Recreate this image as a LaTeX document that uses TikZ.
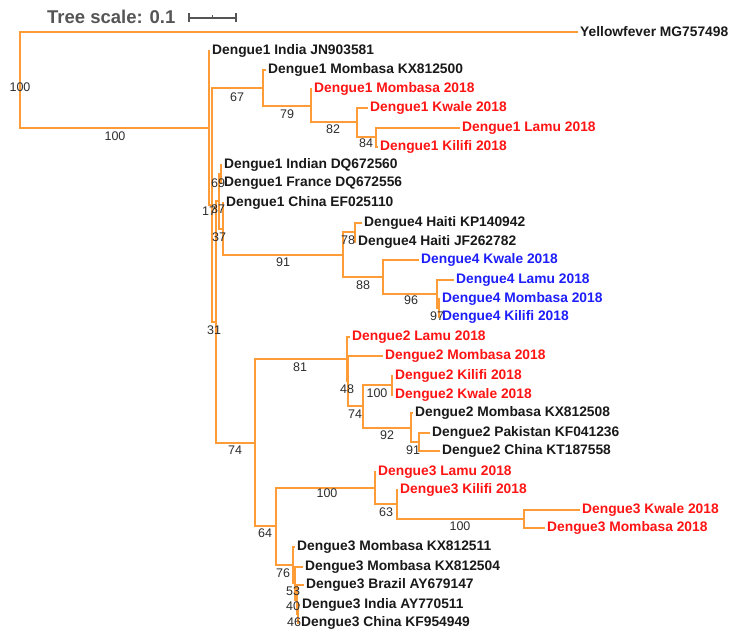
\documentclass[tikz,border=0pt]{standalone}
\usepackage{fontspec}
\setmainfont{Liberation Sans}
\usepackage{tikz}
\definecolor{branchorange}{RGB}{255,156,56}
\definecolor{tipred}{RGB}{255,20,20}
\definecolor{tipblue}{RGB}{30,30,250}
\definecolor{tipblack}{RGB}{25,25,25}
\definecolor{bootgray}{RGB}{45,45,45}
\definecolor{scalegray}{RGB}{85,85,85}

\begin{document}
\begin{tikzpicture}[x=1pt, y=-1pt,
	branch/.style={draw=branchorange, line width=2pt},
	leaf/.style={anchor=west, inner sep=2pt, text=tipblack, font=\bfseries\fontsize{13.8}{14}\selectfont},
	redtip/.style={text=tipred},
	bluetip/.style={text=tipblue},
	boot/.style={inner sep=0pt, text=bootgray, font=\fontsize{12.5}{13}\selectfont}]

	\useasboundingbox (0,0) rectangle (735,634);

	% scale
	\node[anchor=west, inner sep=0pt, text=scalegray, font=\bfseries\fontsize{18.5}{20}\selectfont] (ts) at (47,17) {Tree scale: 0.1};
	\coordinate (sb1) at (189,18);
	\coordinate (sb2) at (236,18);
	\coordinate (sbm) at (212.5,18);
	\draw[scalegray, line width=1.2pt] (sb1) -- (sb2);
	\draw[scalegray, line width=1.2pt] (sb1) ++(0,-4.5) -- ++(0,9);
	\draw[scalegray, line width=1.2pt] (sb2) ++(0,-4.5) -- ++(0,9);
	\draw[scalegray, line width=1.2pt] (sbm) -- ++(0,-3);

	% inner nodes
	\coordinate (root) at (20,80);
	\coordinate (n0) at (209,128);
	\coordinate (n1) at (212,205);
	\coordinate (nk) at (263,88);
	\coordinate (nm) at (311,106);
	\coordinate (nn) at (357,122);
	\coordinate (np) at (376,137);
	\coordinate (n2) at (216,322);
	\coordinate (nb) at (219,201);
	\coordinate (na) at (221,174);
	\coordinate (nd) at (223,229);
	\coordinate (d4) at (343,255);
	\coordinate (hai) at (355,232);
	\coordinate (ky) at (383,277);
	\coordinate (lmk) at (437,294);
	\coordinate (mk) at (439,308);
	\coordinate (d23) at (255,443);
	\coordinate (d2) at (347,359);
	\coordinate (n48) at (348,381);
	\coordinate (n74) at (363,406);
	\coordinate (n100) at (392,385);
	\coordinate (n92) at (411,428);
	\coordinate (n91) at (419,442);
	\coordinate (d3) at (276,526);
	\coordinate (n100a) at (375,488);
	\coordinate (n63) at (397,504);
	\coordinate (n100b) at (524,519);
	\coordinate (n76) at (293,565);
	\coordinate (n53) at (295,583);
	\coordinate (n40) at (297,600);
	\coordinate (n46) at (298,614);

	% leaves
	\node[leaf] (yf) at (578,32) {Yellowfever MG757498};
	\node[leaf] (d1in) at (210,51) {Dengue1 India JN903581};
	\node[leaf] (d1kx) at (266,70) {Dengue1 Mombasa KX812500};
	\node[leaf,redtip] (d1mo) at (312,89) {Dengue1 Mombasa 2018};
	\node[leaf,redtip] (d1kw) at (368,108) {Dengue1 Kwale 2018};
	\node[leaf,redtip] (d1la) at (460,128) {Dengue1 Lamu 2018};
	\node[leaf,redtip] (d1ki) at (378,147) {Dengue1 Kilifi 2018};
	\node[leaf] (d1dq0) at (222,165) {Dengue1 Indian DQ672560};
	\node[leaf] (d1dq6) at (222,183) {Dengue1 France DQ672556};
	\node[leaf] (d1ef) at (224,203) {Dengue1 China EF025110};
	\node[leaf] (d4kp) at (362,223) {Dengue4 Haiti KP140942};
	\node[leaf] (d4jf) at (356,242) {Dengue4 Haiti JF262782};
	\node[leaf,bluetip] (d4kw) at (419,260) {Dengue4 Kwale 2018};
	\node[leaf,bluetip] (d4la) at (454,280) {Dengue4 Lamu 2018};
	\node[leaf,bluetip] (d4mo) at (440,299) {Dengue4 Mombasa 2018};
	\node[leaf,bluetip] (d4ki) at (440,317) {Dengue4 Kilifi 2018};
	\node[leaf,redtip] (d2la) at (350,337) {Dengue2 Lamu 2018};
	\node[leaf,redtip] (d2mo) at (383,356) {Dengue2 Mombasa 2018};
	\node[leaf,redtip] (d2ki) at (393,376) {Dengue2 Kilifi 2018};
	\node[leaf,redtip] (d2kw) at (393,395) {Dengue2 Kwale 2018};
	\node[leaf] (d2kx) at (413,413) {Dengue2 Mombasa KX812508};
	\node[leaf] (d2kf) at (430,433) {Dengue2 Pakistan KF041236};
	\node[leaf] (d2kt) at (440,451) {Dengue2 China KT187558};
	\node[leaf,redtip] (d3la) at (376,472) {Dengue3 Lamu 2018};
	\node[leaf,redtip] (d3ki) at (398,490) {Dengue3 Kilifi 2018};
	\node[leaf,redtip] (d3kw) at (580,510) {Dengue3 Kwale 2018};
	\node[leaf,redtip] (d3mo) at (545,528) {Dengue3 Mombasa 2018};
	\node[leaf] (d3kx1) at (295,547) {Dengue3 Mombasa KX812511};
	\node[leaf] (d3kx4) at (303,567) {Dengue3 Mombasa KX812504};
	\node[leaf] (d3ay6) at (304,585) {Dengue3 Brazil AY679147};
	\node[leaf] (d3ay7) at (300,605) {Dengue3 India AY770511};
	\node[leaf] (d3kf) at (299,623) {Dengue3 China KF954949};

	% branches
	\foreach \p/\c in {root/n0, n0/n1, n1/nk, nk/nm, nm/nn, nn/np, n1/n2, n2/nb, nb/na, nb/nd,
		nd/d4, d4/hai, d4/ky, ky/lmk, lmk/mk, n2/d23, d23/d2, d2/n48, n48/n74, n74/n100,
		n74/n92, n92/n91, d23/d3, d3/n100a, n100a/n63, n63/n100b, d3/n76, n76/n53, n53/n40, n40/n46}{
		\draw[branch] (\p) |- (\c);
	}
	\foreach \p/\c in {root/yf, n0/d1in, nk/d1kx, nm/d1mo, nn/d1kw, np/d1la, np/d1ki, na/d1dq0,
		na/d1dq6, nd/d1ef, hai/d4kp, hai/d4jf, ky/d4kw, lmk/d4la, mk/d4mo, mk/d4ki, d2/d2la,
		n48/d2mo, n100/d2ki, n100/d2kw, n92/d2kx, n91/d2kf, n91/d2kt, n100a/d3la, n63/d3ki,
		n100b/d3kw, n100b/d3mo, n76/d3kx1, n53/d3kx4, n40/d3ay6, n46/d3ay7, n46/d3kf}{
		\draw[branch] (\p) |- (\c.west);
	}

	% bootstrap values
	\foreach \x/\y/\v [count=\i] in {20/87/100, 115/136/100, 237/97/67, 287/114/79, 333/129/82,
		366/143/84, 209/211/17, 218/183/69, 218/209/37, 219/237/37, 214/330/31, 283/262/91,
		348/240/78, 363/285/88, 411/300/96, 437/316/97, 235/450/74, 300/367/81, 347/389/48,
		355/414/74, 377/393/100, 387/435/92, 413/450/91, 265/533/64, 327/493/100, 386/512/63,
		460/526/100, 283/573/76, 293/591/53, 293/606/40, 294/622/46}{
		\node[boot] (b\i) at (\x,\y) {\v};
	}
\end{tikzpicture}
\end{document}
